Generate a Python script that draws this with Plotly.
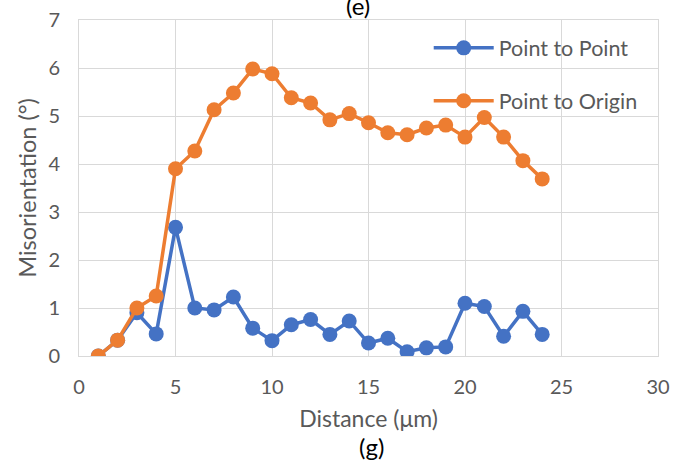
import plotly.graph_objects as go

distance = list(range(1, 25))
point_to_point = [0.0, 0.33, 0.90, 0.46, 2.68, 1.00, 0.96, 1.23, 0.58, 0.32, 0.65, 0.76,
                  0.45, 0.73, 0.27, 0.37, 0.09, 0.17, 0.19, 1.10, 1.03, 0.41, 0.93, 0.45]
point_to_origin = [0.0, 0.33, 1.00, 1.25, 3.90, 4.27, 5.13, 5.48, 5.98, 5.88, 5.38, 5.27,
                   4.92, 5.05, 4.86, 4.65, 4.61, 4.75, 4.81, 4.56, 4.97, 4.56, 4.07, 3.69]

FONT = "Lato, 'Open Sans', sans-serif"
GRAY = "#595959"
GRID = "#d9d9d9"

fig = go.Figure()
fig.add_trace(go.Scatter(x=distance, y=point_to_point, mode="lines+markers", name="Point to Point",
                         legendgroup="a",
                         line=dict(color="#4472c4", width=3.5), marker=dict(size=15, color="#4472c4")))
fig.add_trace(go.Scatter(x=distance, y=point_to_origin, mode="lines+markers", name="Point to Origin",
                         legendgroup="b",
                         line=dict(color="#ed7d31", width=3.5), marker=dict(size=15, color="#ed7d31")))

fig.update_layout(
    width=674, height=466,
    margin=dict(l=79, r=16, t=20, b=110, autoexpand=False),
    plot_bgcolor="white", paper_bgcolor="white",
    font=dict(family=FONT, color=GRAY, size=20),
    showlegend=True,
    legend=dict(x=0.604, y=0.978, xanchor="left", yanchor="top", bgcolor="rgba(0,0,0,0)",
                font=dict(size=21.5, color=GRAY), itemwidth=60, tracegroupgap=22,
                traceorder="grouped"),
    xaxis=dict(range=[0, 30], dtick=5, showgrid=True, gridcolor=GRID, gridwidth=1,
               showline=True, linecolor=GRID, linewidth=1, zeroline=False, ticks="",
               automargin=False, ticklabelstandoff=13,
               tickfont=dict(size=20, color=GRAY),
               title=dict(text="Distance (μm)", font=dict(size=23, color=GRAY), standoff=13)),
    yaxis=dict(range=[0, 7], dtick=1, showgrid=True, gridcolor=GRID, gridwidth=1,
               showline=True, linecolor=GRID, linewidth=1, zeroline=False, ticks="",
               automargin=False, ticklabelstandoff=14,
               tickfont=dict(size=20, color=GRAY),
               title=dict(text="Misorientation (°)", font=dict(size=23.5, color=GRAY), standoff=5)),
)
fig.update_xaxes(mirror=True)
fig.update_yaxes(mirror=True)

fig.add_annotation(text="(e)", xref="paper", yref="paper", x=0.482, y=1.042, yanchor="middle",
                   showarrow=False, font=dict(size=24, color="black", family=FONT))
fig.add_annotation(text="(g)", xref="paper", yref="paper", x=0.505, y=-0.27, yanchor="middle",
                   showarrow=False, font=dict(size=24, color="black", family=FONT))

fig.write_html("out.html", config={"displayModeBar": False},
               post_script="document.body.style.margin='0';")
